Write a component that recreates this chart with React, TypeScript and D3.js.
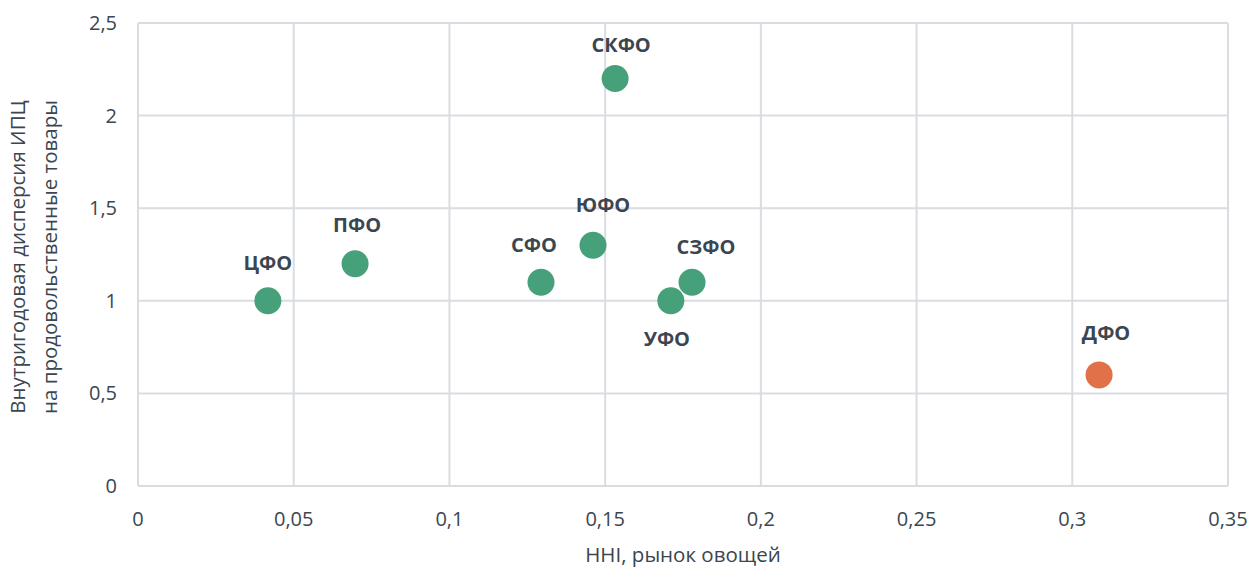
import React from "react";
import * as d3 from "d3";

const regions = ["ЦФО", "ПФО", "СФО", "ЮФО", "СКФО", "УФО", "СЗФО", "ДФО"];
const hhiValues = [0.0417, 0.0697, 0.1294, 0.1461, 0.1532, 0.1711, 0.1779, 0.3086];
const dispersionValues = [1.0, 1.2, 1.1, 1.3, 2.2, 1.0, 1.1, 0.6];
const highlighted = ["ДФО"];
const xTicks = [0, 0.05, 0.1, 0.15, 0.2, 0.25, 0.3, 0.35];
const yTicks = [0, 0.5, 1, 1.5, 2, 2.5];
// label placement: dx, dy relative to point (in px)
const labelOffsets: Record<string, [number, number]> = {
  "ЦФО": [0, -38],
  "ПФО": [2, -39],
  "СФО": [-7, -37],
  "ЮФО": [10, -40],
  "СКФО": [6, -34],
  "УФО": [-4, 38],
  "СЗФО": [14, -35],
  "ДФО": [7, -42],
};

const W = 1250, H = 570;
const left = 138, right = 1228, top = 23, bottom = 486;
const font = "'Open Sans', 'Noto Sans', sans-serif";
const textColor = "#3b4650";

export default function App() {
  const x = d3.scaleLinear().domain([0, 0.35]).range([left, right]);
  const y = d3.scaleLinear().domain([0, 2.5]).range([bottom, top]);
  const fmt = (v: number) => String(v).replace(".", ",");
  return (
    <svg width={W} height={H} style={{ position: "absolute", left: 0, top: 0, background: "#fff" }} fontFamily={font}>
      {yTicks.map((t) => (
        <line key={"gy" + t} x1={left} x2={right} y1={y(t)} y2={y(t)} stroke="#d9dde1" strokeWidth={2} />
      ))}
      {xTicks.map((t) => (
        <line key={"gx" + t} x1={x(t)} x2={x(t)} y1={top} y2={bottom} stroke="#d9dde1" strokeWidth={2} />
      ))}
      {yTicks.map((t) => (
        <text key={"ty" + t} x={left - 21} y={y(t)} dy="0.35em" textAnchor="end" fontSize={20} fill={textColor}>
          {fmt(t)}
        </text>
      ))}
      {xTicks.map((t) => (
        <text key={"tx" + t} x={x(t)} y={bottom + 40} textAnchor="middle" fontSize={20} fill={textColor}>
          {fmt(t)}
        </text>
      ))}
      <text x={683} y={562} textAnchor="middle" fontSize={20.5} fill={textColor}>
        HHI, рынок овощей
      </text>
      <text transform={`translate(25, 257) rotate(-90)`} textAnchor="middle" fontSize={20.5} fill={textColor}>
        <tspan x={0} dy={0}>Внутригодовая дисперсия ИПЦ</tspan>
        <tspan x={0} dy={32}>на продовольственные товары</tspan>
      </text>
      {regions.map((r, i) => (
        <circle key={"c" + r} cx={x(hhiValues[i])} cy={y(dispersionValues[i])} r={13.5}
          fill={highlighted.includes(r) ? "#e07148" : "#46a07a"} />
      ))}
      {regions.map((r, i) => {
        const [dx, dy] = labelOffsets[r];
        return (
          <text key={"l" + r} x={x(hhiValues[i]) + dx} y={y(dispersionValues[i]) + dy} dy="0.35em"
            textAnchor="middle" fontSize={20} fontWeight="bold" fill={textColor}>
            {r}
          </text>
        );
      })}
    </svg>
  );
}
